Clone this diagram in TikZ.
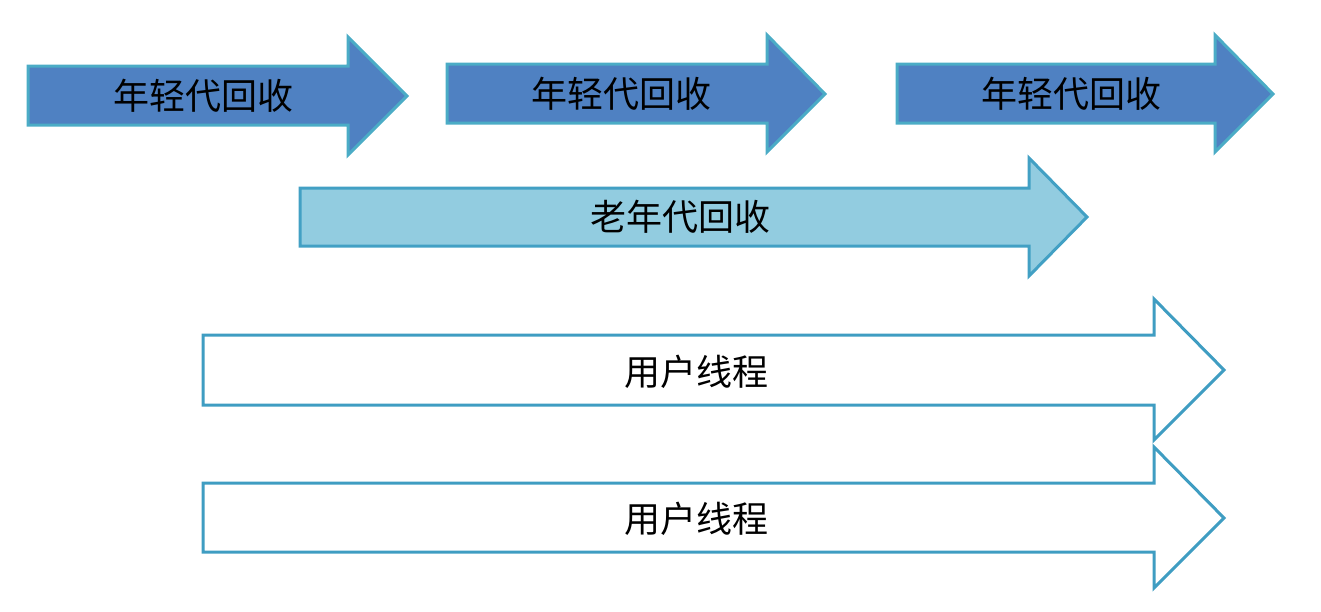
\documentclass[tikz,border=0pt]{standalone}
\usepackage{fontspec}
\newfontfamily\cjk{Noto Sans CJK SC}
\definecolor{youngfill}{HTML}{4F81C2}
\definecolor{youngline}{HTML}{4BACC6}
\definecolor{oldfill}{HTML}{92CCE0}
\definecolor{oldline}{HTML}{42A0C4}
\definecolor{userline}{HTML}{3F9DC2}
\tikzset{
  young/.style={fill=youngfill, draw=youngline, line width=1.5pt, line join=miter},
  old/.style={fill=oldfill, draw=oldline, line width=1.5pt, line join=miter},
  user/.style={fill=white, draw=userline, line width=1.5pt, line join=miter},
  label/.style={font=\cjk\fontsize{18pt}{20pt}\selectfont, text=black, inner sep=0pt}
}
\begin{document}
\begin{tikzpicture}[x=0.5pt, y=-0.5pt]
    \useasboundingbox (0,0) rectangle (1321,611);

    % 年轻代回收：三个深蓝色箭头
    \draw[young] (28,66) -- (348,66) -- (348,37) -- (407,96) -- (348,155)
                 -- (348,125) -- (28,125) -- cycle;
    \node[label] (y1) at (203,96) {年轻代回收};

    \draw[young] (447,64) -- (767,64) -- (767,35) -- (825,94) -- (767,152)
                 -- (767,123) -- (447,123) -- cycle;
    \node[label] (y2) at (621,94) {年轻代回收};

    \draw[young] (897,64) -- (1215,64) -- (1215,35) -- (1273,94) -- (1215,152)
                 -- (1215,123) -- (897,123) -- cycle;
    \node[label] (y3) at (1071,94) {年轻代回收};

    % 老年代回收：浅蓝色箭头
    \draw[old] (300,188) -- (1029,188) -- (1029,158) -- (1087,217) -- (1029,276)
               -- (1029,246) -- (300,246) -- cycle;
    \node[label] (old) at (680,217) {老年代回收};

    % 用户线程：两个白色箭头
    \draw[user] (203,335) -- (1154,335) -- (1154,299) -- (1224,370) -- (1154,440)
                -- (1154,405) -- (203,405) -- cycle;
    \node[label] (user1) at (696,372) {用户线程};

    \draw[user] (203,483) -- (1154,483) -- (1154,447) -- (1224,518) -- (1154,588)
                -- (1154,552) -- (203,552) -- cycle;
    \node[label] (user2) at (696,519) {用户线程};
\end{tikzpicture}
\end{document}
